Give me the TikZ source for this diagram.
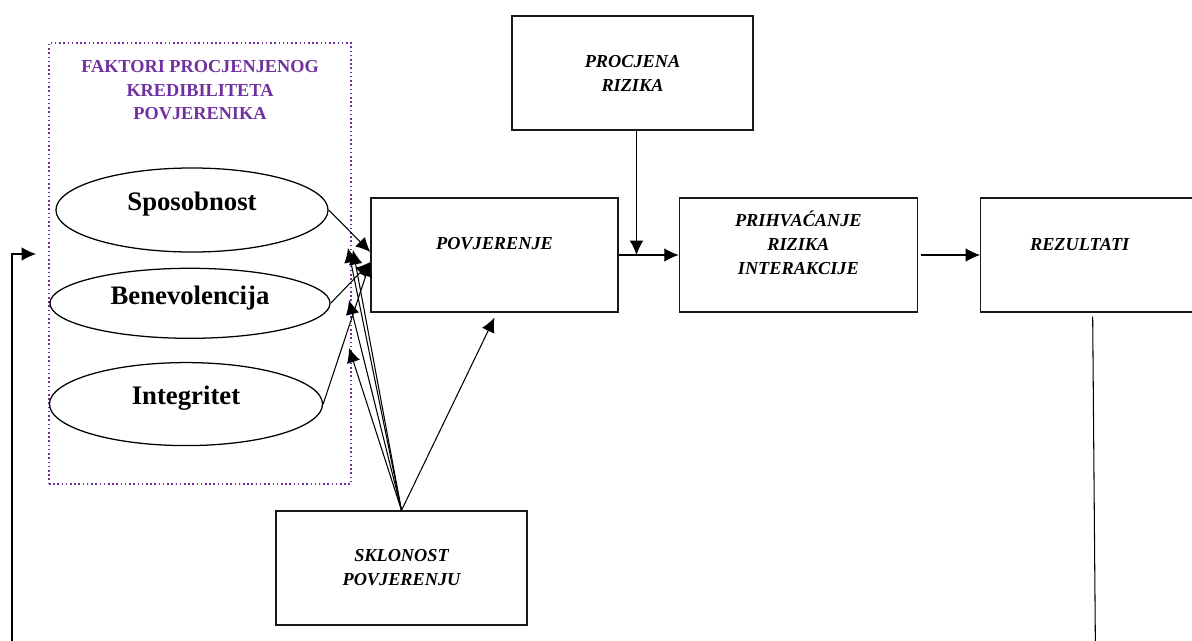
\documentclass[tikz,border=0pt]{standalone}
\usepackage{fontspec}
\setmainfont{Liberation Serif}
\usetikzlibrary{arrows.meta,positioning,shapes.geometric}
\definecolor{ljubicasta}{RGB}{112,48,160}
\tikzset{%
	>={Latex[width=3.4mm,length=3.6mm]},
	% Specifications for style of nodes:
	boxtext/.style = {font=\fontsize{13}{17}\selectfont\bfseries\itshape},
	base/.style = {rectangle, draw=black!90, line width=0.9pt,
		minimum width=6cm, minimum height=2.85cm,
		align=center, inner sep=2pt, boxtext},
	faktor/.style = {ellipse, draw=black, line width=0.9pt, inner sep=0pt,
		text height=0.46cm, text depth=0.42cm,
		font=\fontsize{19}{22}\selectfont\bfseries},
	okvir/.style = {rectangle, draw=ljubicasta, line width=1.3pt,
		dash pattern=on 1.1pt off 1.9pt}
}

\begin{document}
\begin{tikzpicture}[x=0.025cm, y=-0.025cm, line width=0.75pt]
	\path[use as bounding box, clip] (0,0) rectangle (1192,640);
	% Factors of perceived credibility (frame, title, ellipses)
	\node (okvir)   [okvir, minimum width=7.55cm, minimum height=11.025cm] at (200,263.5) {};
	\node (naslov)  [font=\fontsize{13}{16.7}\selectfont\bfseries, text=ljubicasta,
		align=center] at (200,90.5) {FAKTORI PROCJENJENOG\\KREDIBILITETA\\POVJERENIKA};
	\node (spos)    [faktor, minimum width=6.8cm, minimum height=2.1cm] at (192,210) {Sposobnost};
	\node (bene)    [faktor, minimum width=7cm, minimum height=1.75cm,
		below=0.375cm of spos, xshift=-0.05cm] {Benevolencija};
	\node (integ)   [faktor, minimum width=6.825cm, minimum height=2.075cm,
		below=0.575cm of bene, xshift=-0.1cm] {Integritet};
	% Main chain of boxes
	\node (povj)    [base, minimum width=6.175cm] at (494.5,255) {POVJERENJE\\\mbox{}};
	\node (prihv)   [base, minimum width=5.95cm, right=1.5cm of povj] {PRIHVAĆANJE\\RIZIKA\\INTERAKCIJE\\\mbox{}};
	\node (rez)     [base, right=1.55cm of prihv,
		label={[boxtext, xshift=-0.525cm, yshift=0.25cm]center:REZULTATI}] {};
	\node (proc)    [base, minimum width=6.025cm] at (632.5,73) {PROCJENA\\RIZIKA};
	\node (skl)     [base, minimum width=6.275cm] at (401.5,568) {SKLONOST\\POVJERENJU};
	% Free ends
	\coordinate (povjA) at ([yshift=0.075cm]povj.west);
	\coordinate (povjB) at ([yshift=-0.175cm]povj.west);
	\coordinate (s1) at (348,248);
	\coordinate (s2) at (353,250);
	\coordinate (s3) at (349,300);
	\coordinate (s4) at (349,348);
	\coordinate (dnoR) at (1095.5,660);
	\coordinate (dnoL) at (12,660);
	\coordinate (ulaz) at (36,254);

	\draw[->] (spos.east) -- (povjA);
	\draw[->] (bene.east) -- (povjB);
	\draw[->] (integ.east) -- (povjB);
	\draw[->] (skl.north) -- (s1);
	\draw[->] (skl.north) -- (s2);
	\draw[->] (skl.north) -- (s3);
	\draw[->] (skl.north) -- (s4);
	\draw[->] (skl.north) -- ([yshift=-0.125cm]povj.south);
	\draw[->] (povj) -- (prihv);
	\draw[->] ([xshift=0.1cm]proc.south) -- ([xshift=0.1cm]proc.south |- povj.east);
	\draw[->] ([xshift=0.075cm]prihv.east) -- (rez.west);
	% feedback line
	\draw ([xshift=-0.2cm,yshift=-0.1cm]rez.south) -- (dnoR);
	\draw[->] (dnoL) |- (ulaz);
\end{tikzpicture}
\end{document}
